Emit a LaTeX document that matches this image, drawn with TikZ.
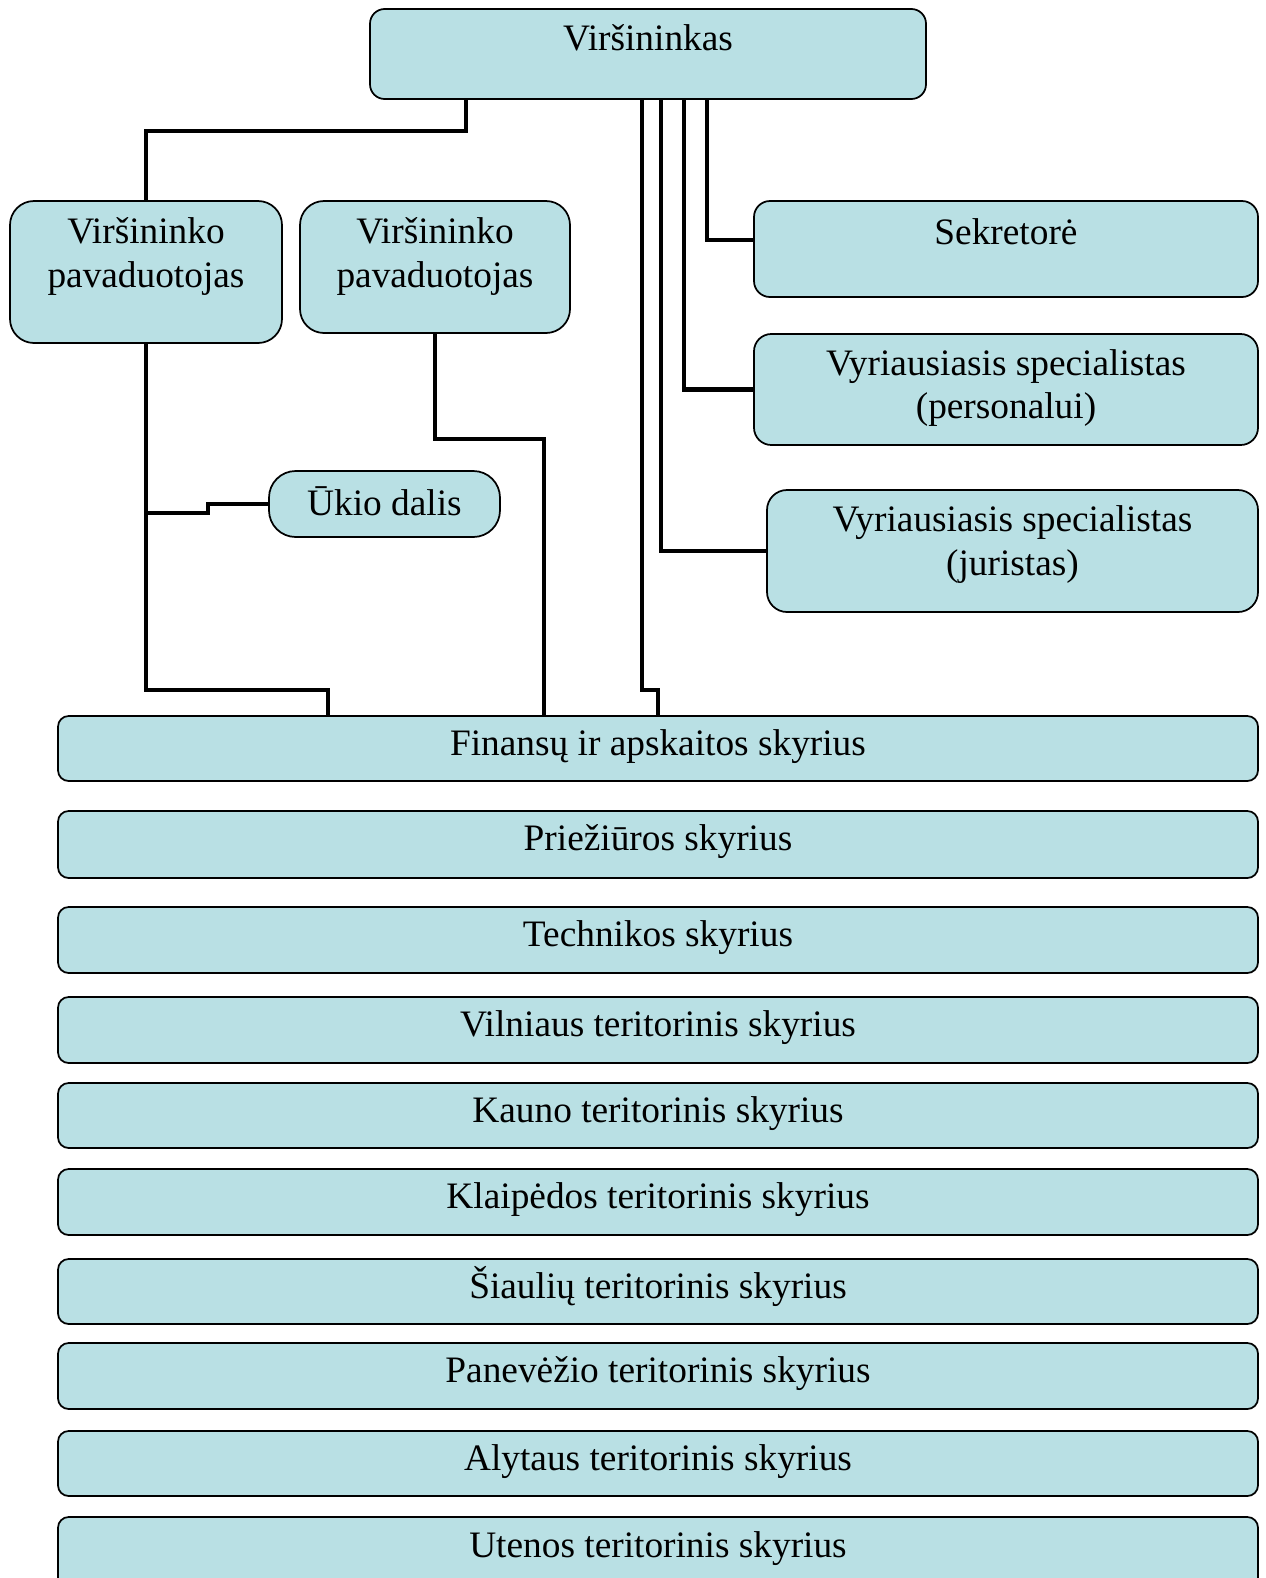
\documentclass[tikz,border=0pt]{standalone}
\usepackage{fontspec}
\setmainfont{Liberation Serif}
\definecolor{boxfill}{RGB}{185,224,228}
\tikzset{
  orgbox/.style={draw=black, line width=1.3pt, fill=boxfill, inner sep=0pt, outer sep=0pt, shape=rectangle},
  txt/.style={anchor=base, align=center, inner sep=0pt, font=\fontsize{28}{32.3}\selectfont},
  conn/.style={draw=black, line width=3.5pt, line join=miter, line cap=butt}
}
% #1 name, #2 x1, #3 y1, #4 x2, #5 y2 (pixels), #6 corner radius (pt)
\newcommand\mkbox[6]{%
  \node[orgbox, rounded corners=#6, minimum width={(#4-#2)*0.75pt}, minimum height={(#5-#3)*0.75pt}]
    (#1) at ({(#2+#4)/2},{(#3+#5)/2}) {};}
\begin{document}
\begin{tikzpicture}[x=0.75pt, y=-0.75pt]
\useasboundingbox (0,0) rectangle (1265,1578);
\fill[white] (0,0) rectangle (1265,1578);
\clip (0,0) rectangle (1265,1578);

% boxes
\mkbox{boss}{370}{9}{926}{99}{11pt}
\mkbox{dep1}{10}{201}{282}{343}{18pt}
\mkbox{dep2}{300}{201}{570}{333}{18pt}
\mkbox{sek}{754}{201}{1258}{297}{12pt}
\mkbox{pers}{754}{334}{1258}{445}{13pt}
\mkbox{jur}{767}{490}{1258}{612}{15pt}
\mkbox{ukio}{269}{471}{500}{537}{20pt}
\mkbox{fin}{58}{716}{1258}{781}{8pt}
\mkbox{prie}{58}{811}{1258}{878}{8pt}
\mkbox{tech}{58}{907}{1258}{973}{8pt}
\mkbox{viln}{58}{997}{1258}{1063}{8pt}
\mkbox{kaun}{58}{1083}{1258}{1148}{8pt}
\mkbox{klai}{58}{1169}{1258}{1235}{8pt}
\mkbox{siau}{58}{1259}{1258}{1324}{8pt}
\mkbox{pane}{58}{1343}{1258}{1409}{8pt}
\mkbox{alyt}{58}{1431}{1258}{1496}{8pt}
\mkbox{uten}{58}{1517}{1258}{1600}{8pt}

% texts (base anchor of a two-line node is the last line)
\node[txt] (t-boss) at ([yshift=-41*0.75pt]boss.north) {Viršininkas};
\node[txt] (t-dep1) at ([yshift=-86*0.75pt]dep1.north) {Viršininko\\pavaduotojas};
\node[txt] (t-dep2) at ([yshift=-86*0.75pt]dep2.north) {Viršininko\\pavaduotojas};
\node[txt] (t-sek) at ([yshift=-43*0.75pt]sek.north) {Sekretorė};
\node[txt] (t-pers) at ([yshift=-84.5*0.75pt]pers.north) {Vyriausiasis specialistas\\(personalui)};
\node[txt] (t-jur) at ([yshift=-85*0.75pt]jur.north) {Vyriausiasis specialistas\\(juristas)};
\node[txt] (t-ukio) at ([yshift=-44*0.75pt]ukio.north) {Ūkio dalis};
\node[txt] (t-fin) at ([yshift=-39*0.75pt]fin.north) {Finansų ir apskaitos skyrius};
\node[txt] (t-prie) at ([yshift=-39*0.75pt]prie.north) {Priežiūros skyrius};
\node[txt] (t-tech) at ([yshift=-39*0.75pt]tech.north) {Technikos skyrius};
\node[txt] (t-viln) at ([yshift=-39*0.75pt]viln.north) {Vilniaus teritorinis skyrius};
\node[txt] (t-kaun) at ([yshift=-39*0.75pt]kaun.north) {Kauno teritorinis skyrius};
\node[txt] (t-klai) at ([yshift=-39*0.75pt]klai.north) {Klaipėdos teritorinis skyrius};
\node[txt] (t-siau) at ([yshift=-39*0.75pt]siau.north) {Šiaulių teritorinis skyrius};
\node[txt] (t-pane) at ([yshift=-39*0.75pt]pane.north) {Panevėžio teritorinis skyrius};
\node[txt] (t-alyt) at ([yshift=-39*0.75pt]alyt.north) {Alytaus teritorinis skyrius};
\node[txt] (t-uten) at ([yshift=-40*0.75pt]uten.north) {Utenos teritorinis skyrius};

% connectors
\draw[conn] ([xshift=96*0.75pt]boss.south west) -- ++(0,32) -| (dep1.north);
\draw[conn] (dep1.south) -- ++(0,347) -| ([xshift=270*0.75pt]fin.north west);
\draw[conn] (ukio.west) -- ++(-61,0) -- ++(0,9) -- ++(-62,0);
\draw[conn] (dep2.south) -- ++(0,106) -| ([xshift=486*0.75pt]fin.north west);
\draw[conn] ([xshift=337*0.75pt]boss.south west) |- ([yshift=9*0.75pt]sek.west);
\draw[conn] ([xshift=314*0.75pt]boss.south west) |- (pers.west);
\draw[conn] ([xshift=291*0.75pt]boss.south west) |- (jur.west);
\draw[conn] ([xshift=272*0.75pt]boss.south west) -- ++(0,591) -| ([xshift=600*0.75pt]fin.north west);
\end{tikzpicture}
\end{document}
